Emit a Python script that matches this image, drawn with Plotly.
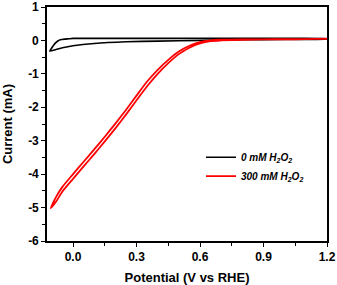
import plotly.graph_objects as go

# Black: 0 mM H2O2 (CV loop)
black_fwd_x = [-0.11, -0.10, -0.09, -0.08, -0.07, -0.06, -0.04, -0.02, 0.0, 0.2, 0.4, 0.6, 0.8, 1.0, 1.2]
black_fwd_y = [-0.32, -0.22, -0.13, -0.06, -0.01, 0.02, 0.04, 0.05, 0.06, 0.06, 0.06, 0.06, 0.06, 0.06, 0.05]
black_rev_x = [1.2, 1.0, 0.8, 0.6, 0.4, 0.25, 0.1, 0.0, -0.05, -0.08, -0.11]
black_rev_y = [0.04, 0.03, 0.02, 0.0, -0.02, -0.04, -0.09, -0.16, -0.22, -0.27, -0.32]

# Red: 300 mM H2O2 (CV loop)
red_x = [-0.105, -0.08, -0.05, 0.0, 0.05, 0.1, 0.15, 0.2, 0.25, 0.3, 0.35, 0.4,
         0.45, 0.5, 0.55, 0.6, 0.65, 0.7, 0.8, 0.9, 1.0, 1.1, 1.2]
red_lower_y = [-5.02, -4.82, -4.52, -4.14, -3.77, -3.40, -3.02, -2.63, -2.22, -1.79, -1.37, -1.00,
               -0.68, -0.41, -0.22, -0.09, -0.02, 0.0, 0.02, 0.03, 0.03, 0.04, 0.05]
red_upper_y = [-5.02, -4.68, -4.38, -4.00, -3.63, -3.26, -2.88, -2.49, -2.08, -1.65, -1.23, -0.88,
               -0.58, -0.33, -0.16, -0.05, 0.0, 0.02, 0.03, 0.03, 0.04, 0.04, 0.05]

x_tickvals = [0.0, 0.3, 0.6, 0.9, 1.2]
x_ticktext = ["0.0", "0.3", "0.6", "0.9", "1.2"]
y_tickvals = [-6, -5, -4, -3, -2, -1, 0, 1]
y_ticktext = ["-6", "-5", "-4", "-3", "-2", "-1", "0", "1"]

fig = go.Figure()
fig.add_trace(go.Scatter(
    x=black_fwd_x + black_rev_x, y=black_fwd_y + black_rev_y,
    mode="lines", line=dict(color="black", width=1.6, shape="spline", smoothing=0.6),
    name="0 mM H<sub>2</sub>O<sub>2</sub>"))
fig.add_trace(go.Scatter(
    x=red_x + red_x[::-1], y=red_lower_y + red_upper_y[::-1],
    mode="lines", line=dict(color="#ff0000", width=1.8, shape="spline", smoothing=0.6),
    name="300 mM H<sub>2</sub>O<sub>2</sub>"))

font_family = "Liberation Sans, Arial, sans-serif"
axis_common = dict(
    showline=True, linecolor="black", linewidth=1.6, mirror=True,
    ticks="outside", ticklen=4, tickwidth=1.3, tickcolor="black",
    showgrid=False, zeroline=False, automargin=False,
    ticklabeloverflow="allow",
    tickfont=dict(family=font_family, size=12, color="black", weight="bold"),
)
fig.update_xaxes(
    range=[-0.123, 1.2], tickvals=x_tickvals, ticktext=x_ticktext,
    minor=dict(ticks="outside", ticklen=3, tickwidth=1.2, tickcolor="black", dtick=0.15, tick0=0),
    title=dict(text="Potential (V vs RHE)",
               font=dict(family=font_family, size=13, color="black", weight="bold")),
    **axis_common)
fig.update_yaxes(
    range=[-6, 1], tickvals=y_tickvals, ticktext=y_ticktext,
    minor=dict(ticks="outside", ticklen=3, tickwidth=1.2, tickcolor="black", dtick=0.5, tick0=0),
    title=dict(text="Current (mA)",
               font=dict(family=font_family, size=13, color="black", weight="bold")),
    **axis_common)

fig.update_layout(
    width=337, height=285,
    margin=dict(l=47, r=10, t=7, b=44, autoexpand=False),
    plot_bgcolor="white", paper_bgcolor="white",
    showlegend=True,
    legend=dict(x=0.55, y=0.42, xanchor="left", yanchor="top",
                bgcolor="rgba(0,0,0,0)", borderwidth=0,
                font=dict(family=font_family, size=10, color="black", weight="bold", style="italic"),
                itemwidth=30, tracegroupgap=0),
)
fig.write_html("out.html", config={"displayModeBar": False},
               post_script="document.body.style.margin='0';document.body.style.overflow='hidden';")
